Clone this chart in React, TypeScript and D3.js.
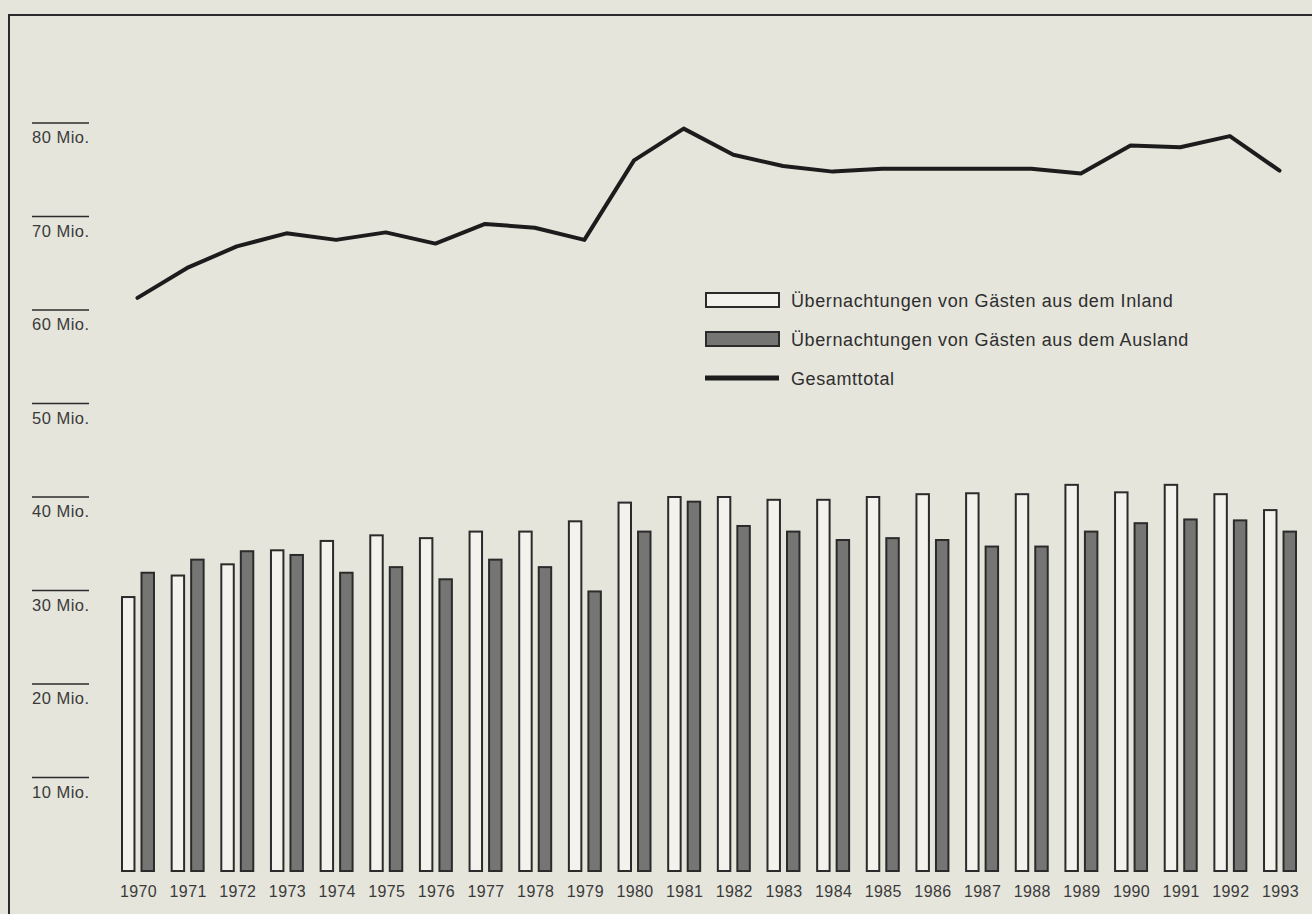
import { useEffect, useRef } from 'react';
import * as d3 from 'd3';

const years = [
  '1970', '1971', '1972', '1973', '1974', '1975', '1976', '1977', '1978', '1979', '1980', '1981',
  '1982', '1983', '1984', '1985', '1986', '1987', '1988', '1989', '1990', '1991', '1992', '1993',
];

// Millionen Übernachtungen
const inland = [
  29.3, 31.6, 32.8, 34.3, 35.3, 35.9, 35.6, 36.3, 36.3, 37.4, 39.4, 40.0,
  40.0, 39.7, 39.7, 40.0, 40.3, 40.4, 40.3, 41.3, 40.5, 41.3, 40.3, 38.6,
];
const ausland = [
  31.9, 33.3, 34.2, 33.8, 31.9, 32.5, 31.2, 33.3, 32.5, 29.9, 36.3, 39.5,
  36.9, 36.3, 35.4, 35.6, 35.4, 34.7, 34.7, 36.3, 37.2, 37.6, 37.5, 36.3,
];
const total = [
  61.3, 64.5, 66.8, 68.2, 67.5, 68.3, 67.1, 69.2, 68.8, 67.5, 76.0, 79.4,
  76.6, 75.4, 74.8, 75.1, 75.1, 75.1, 75.1, 74.6, 77.6, 77.4, 78.6, 74.9,
];

const yTicks = [10, 20, 30, 40, 50, 60, 70, 80];
const seriesKeys = ['inland', 'ausland'];
const legendLabels = [
  'Übernachtungen von Gästen aus dem Inland',
  'Übernachtungen von Gästen aus dem Ausland',
  'Gesamttotal',
];

const W = 1312;
const H = 914;
const BG = '#e5e5dc';
const INK = '#2b2b2b';
const FONT = '"Liberation Sans", Arial, Helvetica, sans-serif';

export default function App() {
  const svgRef = useRef<SVGSVGElement>(null);

  useEffect(() => {
    if (!svgRef.current) return;
    document.body.style.margin = '0';

    const svg = d3.select(svgRef.current);
    svg.selectAll('*').remove();

    svg.append('rect').attr('width', W).attr('height', H).attr('fill', BG);

    // frame (open to the right and bottom, as in the print)
    svg
      .append('path')
      .attr('d', `M9,${H + 5} L9,15 L${W + 5},15`)
      .attr('fill', 'none')
      .attr('stroke', INK)
      .attr('stroke-width', 2);

    const x = d3.scaleBand().domain(years).range([121, 1296]).paddingInner(0.336).paddingOuter(0);
    const xSub = d3.scaleBand().domain(seriesKeys).range([0, x.bandwidth()]).paddingInner(0.31);
    const y = d3.scaleLinear().domain([0, 80]).range([871, 123]);

    // y ticks: short rule with label below
    const ticks = svg.append('g');
    ticks
      .selectAll('line')
      .data(yTicks)
      .enter()
      .append('line')
      .attr('x1', 32)
      .attr('x2', 89)
      .attr('y1', (d) => y(d))
      .attr('y2', (d) => y(d))
      .attr('stroke', INK)
      .attr('stroke-width', 1.6);
    ticks
      .selectAll('text')
      .data(yTicks)
      .enter()
      .append('text')
      .attr('x', 32)
      .attr('y', (d) => y(d) + 20)
      .style('font-family', FONT)
      .style('font-size', '16.5px')
      .style('letter-spacing', '0.5px')
      .style('fill', '#3a3a3a')
      .text((d) => `${d} Mio.`);

    // bars
    const rows = years.map((yr, i) => ({ yr, inland: inland[i], ausland: ausland[i] }));
    const groups = svg
      .append('g')
      .selectAll('g')
      .data(rows)
      .enter()
      .append('g')
      .attr('transform', (d) => `translate(${x(d.yr)},0)`);

    groups
      .selectAll('rect')
      .data((d) => seriesKeys.map((k) => ({ key: k, value: (d as any)[k] as number })))
      .enter()
      .append('rect')
      .attr('x', (d) => (xSub(d.key) ?? 0) + 1)
      .attr('y', (d) => y(d.value))
      .attr('width', xSub.bandwidth() - 1)
      .attr('height', (d) => y(0) - y(d.value))
      .attr('fill', (d) => (d.key === 'inland' ? '#f3f2ec' : '#757573'))
      .attr('stroke', INK)
      .attr('stroke-width', 2);

    // year labels
    svg
      .append('g')
      .selectAll('text')
      .data(years)
      .enter()
      .append('text')
      .attr('x', (d) => (x(d) ?? 0) + x.bandwidth() / 2 + 1)
      .attr('y', 897)
      .attr('text-anchor', 'middle')
      .style('font-family', FONT)
      .style('font-size', '16px')
      .style('letter-spacing', '0.4px')
      .style('fill', '#3a3a3a')
      .text((d) => d);

    // total line
    const line = d3
      .line<number>()
      .x((_d, i) => (x(years[i]) ?? 0) + x.bandwidth() / 2)
      .y((d) => y(d));
    svg
      .append('path')
      .datum(total)
      .attr('d', line)
      .attr('fill', 'none')
      .attr('stroke', '#1c1c1c')
      .attr('stroke-width', 4)
      .attr('stroke-linejoin', 'round')
      .attr('stroke-linecap', 'round');

    // legend
    const legend = svg.append('g').attr('transform', 'translate(705,300)');
    legendLabels.forEach((label, i) => {
      const row = legend.append('g').attr('transform', `translate(0,${i * 39})`);
      if (i < 2) {
        row
          .append('rect')
          .attr('x', 1)
          .attr('y', -7)
          .attr('width', 73)
          .attr('height', 14)
          .attr('fill', i === 0 ? '#f3f2ec' : '#757573')
          .attr('stroke', INK)
          .attr('stroke-width', 2);
      } else {
        row
          .append('line')
          .attr('x1', 0)
          .attr('x2', 74)
          .attr('y1', 0)
          .attr('y2', 0)
          .attr('stroke', '#1c1c1c')
          .attr('stroke-width', 5);
      }
      row
        .append('text')
        .attr('x', 86)
        .attr('y', 7)
        .style('font-family', FONT)
        .style('font-size', '18px')
        .style('letter-spacing', '0.6px')
        .style('fill', '#2e2e2e')
        .text(label);
    });
  }, []);

  return (
    <svg
      ref={svgRef}
      width={W}
      height={H}
      style={{ position: 'absolute', left: 0, top: 0, display: 'block' }}
    />
  );
}
